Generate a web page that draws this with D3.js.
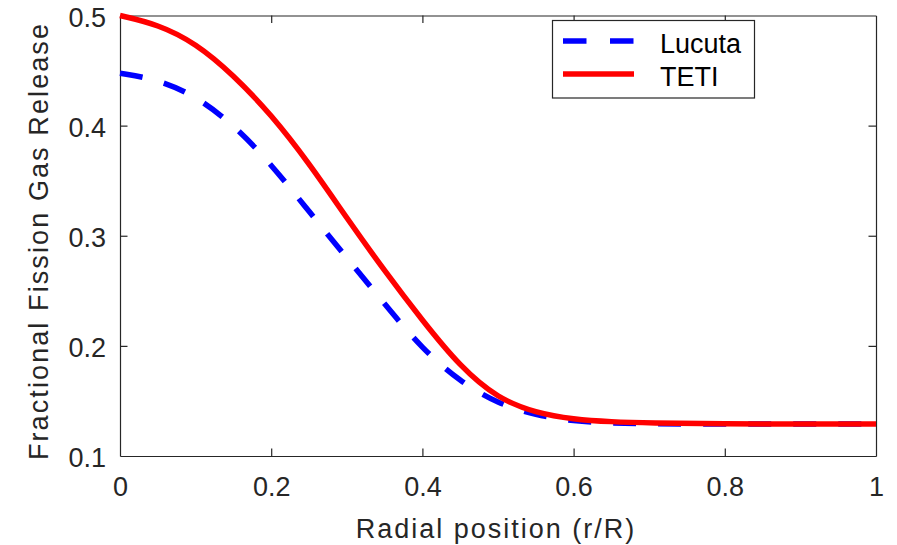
<!DOCTYPE html>
<html>
<head>
<meta charset="utf-8">
<script src="https://cdn.jsdelivr.net/npm/d3@7"></script>
<style>
  html, body { margin: 0; padding: 0; background: #fff; }
  svg { display: block; font-family: "Liberation Sans", Arial, Helvetica, sans-serif; }
</style>
</head>
<body>
<svg id="chart" width="897" height="545"></svg>
<script>
// Radial positions (r/R) and fractional fission gas release for each model
const radius = [0, 0.05, 0.1, 0.15, 0.2, 0.25, 0.3, 0.35, 0.4, 0.45, 0.5, 0.55, 0.6, 0.65, 0.7, 0.8, 0.9, 1.0];
const lucutaFGR = [0.4475, 0.442, 0.427, 0.401, 0.365, 0.322, 0.280, 0.238, 0.197, 0.1675, 0.1475, 0.137, 0.1315, 0.1298, 0.1292, 0.129, 0.129, 0.129];
const tetiFGR = [0.500, 0.492, 0.475, 0.446, 0.410, 0.366, 0.316, 0.268, 0.223, 0.181, 0.152, 0.1392, 0.1333, 0.131, 0.130, 0.1292, 0.129, 0.129];

const xTicks = [0, 0.2, 0.4, 0.6, 0.8, 1];
const yTicks = [0.1, 0.2, 0.3, 0.4, 0.5];
const seriesNames = ["Lucuta", "TETI"];

const svg = d3.select("#chart");
const margin = { left: 120, right: 21, top: 15.5, bottom: 89 };
const W = 897, H = 545;
const x = d3.scaleLinear().domain([0, 1]).range([margin.left, W - margin.right]);
const y = d3.scaleLinear().domain([0.1, 0.5]).range([H - margin.bottom, margin.top]);

const axisColor = "#262626";
const tickLen = 7.5;

// Box axes with inward ticks on all four sides
const axBottom = svg.append("g").attr("transform", `translate(0,${y(0.1)})`)
  .call(d3.axisBottom(x).tickValues(xTicks).tickFormat(d3.format("~g"))
    .tickSizeInner(-tickLen).tickSizeOuter(0).tickPadding(21));
const axTop = svg.append("g").attr("transform", `translate(0,${y(0.5)})`)
  .call(d3.axisTop(x).tickValues(xTicks).tickFormat("").tickSizeInner(-tickLen).tickSizeOuter(0));
const axLeft = svg.append("g").attr("transform", `translate(${x(0)},0)`)
  .call(d3.axisLeft(y).tickValues(yTicks).tickFormat(d3.format("~g"))
    .tickSizeInner(-tickLen).tickSizeOuter(0).tickPadding(14));
const axRight = svg.append("g").attr("transform", `translate(${x(1)},0)`)
  .call(d3.axisRight(y).tickValues(yTicks).tickFormat("").tickSizeInner(-tickLen).tickSizeOuter(0));

[axBottom, axTop, axLeft, axRight].forEach(g => {
  g.select(".domain").attr("stroke", axisColor).attr("stroke-width", 1.2);
  g.selectAll(".tick line").attr("stroke", axisColor).attr("stroke-width", 1.2);
  g.selectAll(".tick text").attr("fill", "#262626").style("font-size", "27px")
    .attr("font-family", null);
});
axLeft.selectAll(".tick text").attr("dy", "0.39em");
// Hide ticks that sit on the box corners
axBottom.selectAll(".tick line").filter(d => d === 0 || d === 1).remove();
axTop.selectAll(".tick line").filter(d => d === 0 || d === 1).remove();
axLeft.selectAll(".tick line").filter(d => d === 0.1 || d === 0.5).remove();
axRight.selectAll(".tick line").filter(d => d === 0.1 || d === 0.5).remove();

// Axis titles
svg.append("text")
  .attr("x", (x(0) + x(1)) / 2 - 2).attr("y", 538)
  .attr("text-anchor", "middle").attr("fill", "#262626")
  .style("font-size", "27px").style("letter-spacing", "2px")
  .text("Radial position (r/R)");
svg.append("text")
  .attr("transform", `translate(48,${241}) rotate(-90)`)
  .attr("text-anchor", "middle").attr("fill", "#262626")
  .style("font-size", "27px").style("letter-spacing", "2.1px")
  .text("Fractional Fission Gas Release");

// Curves
const line = d3.line().x(d => x(d[0])).y(d => y(d[1])).curve(d3.curveBasis);
const lucuta = d3.zip(radius, lucutaFGR);
const teti = d3.zip(radius, tetiFGR);

svg.append("path").datum(lucuta).attr("d", line)
  .attr("fill", "none").attr("stroke", "#0000ff").attr("stroke-width", 5.5)
  .attr("stroke-dasharray", "23 22");
svg.append("path").datum(teti).attr("d", line)
  .attr("fill", "none").attr("stroke", "#ff0000").attr("stroke-width", 5.5);

// Legend
const lg = svg.append("g");
lg.append("rect").attr("x", 552.5).attr("y", 20.5).attr("width", 202).attr("height", 77.5)
  .attr("fill", "#fff").attr("stroke", axisColor).attr("stroke-width", 1.2);
const rows = [
  { name: seriesNames[0], color: "#0000ff", dash: "23.5 23.5", yy: 41 },
  { name: seriesNames[1], color: "#ff0000", dash: null, yy: 74 }
];
rows.forEach(r => {
  lg.append("line").attr("x1", 563).attr("x2", 634).attr("y1", r.yy).attr("y2", r.yy)
    .attr("stroke", r.color).attr("stroke-width", 5.5)
    .attr("stroke-dasharray", r.dash);
  lg.append("text").attr("x", 660).attr("y", r.yy + 11.5)
    .attr("fill", "#000").style("font-size", "27px").text(r.name);
});
</script>
</body>
</html>
